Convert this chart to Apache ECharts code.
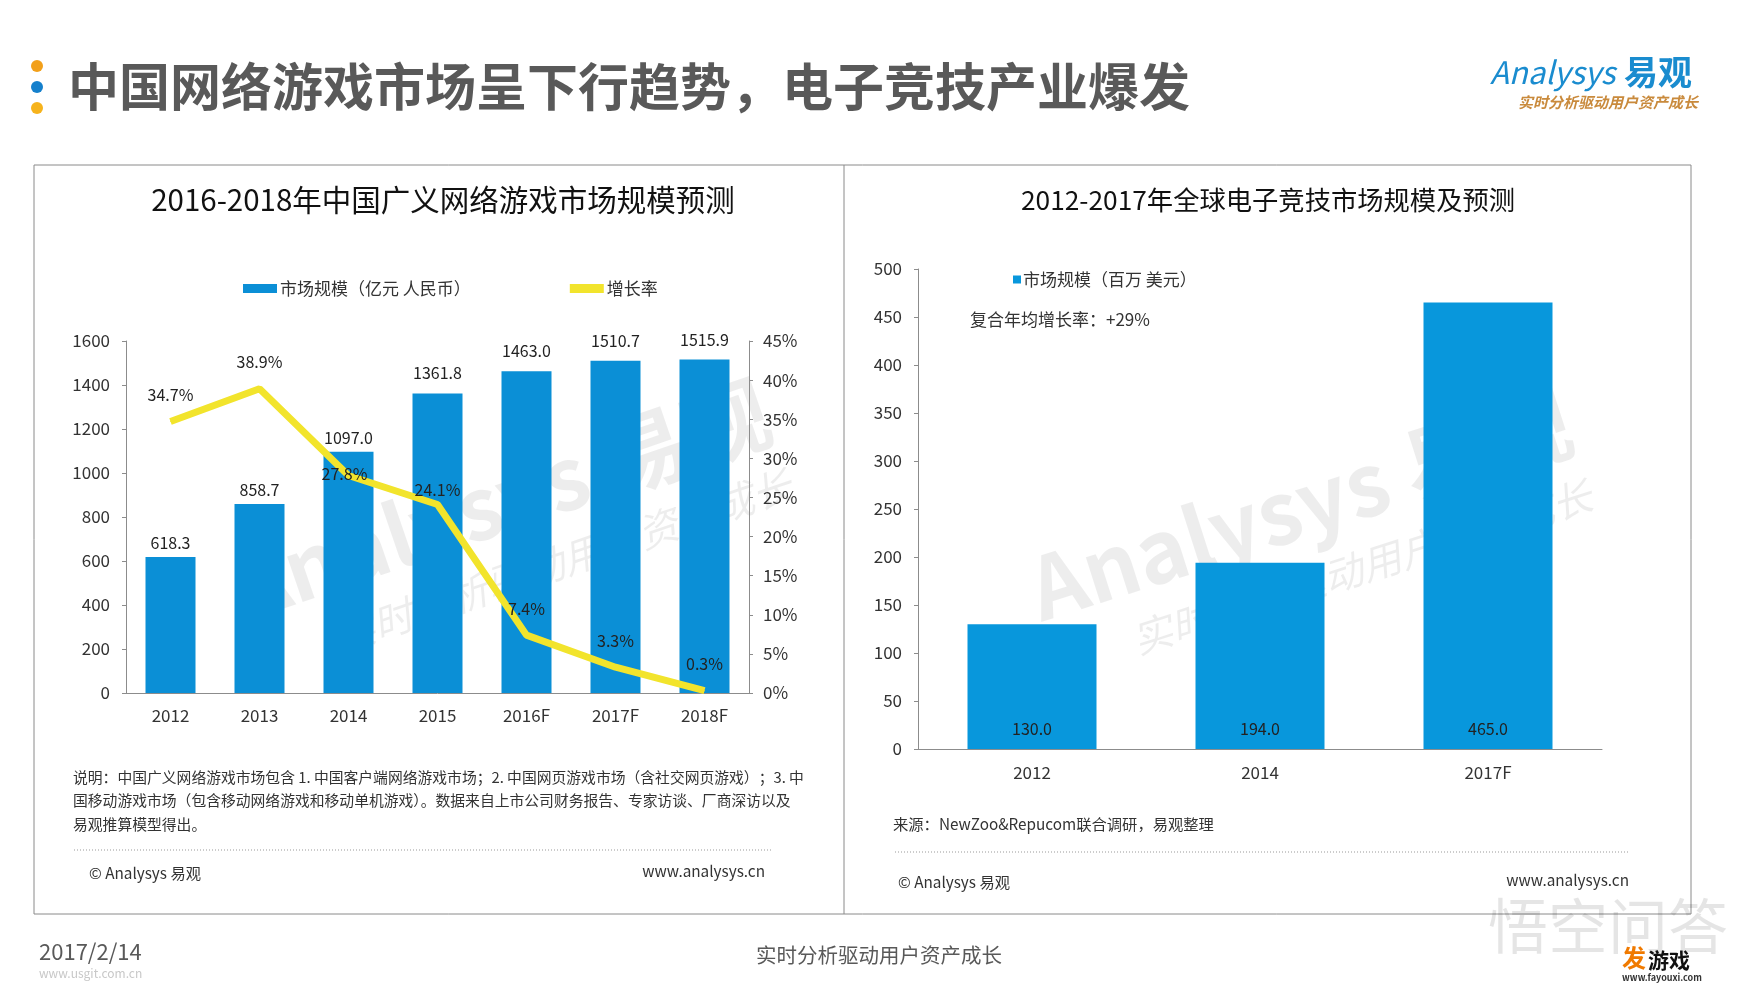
<!DOCTYPE html>
<html>
<head>
<meta charset="utf-8">
<script src="https://cdn.jsdelivr.net/npm/echarts@6/dist/echarts.min.js"></script>
<style>
html,body{margin:0;padding:0;background:#fff;}
#main{width:1760px;height:990px;}
</style>
</head>
<body>
<div id="main"></div>
<script>
// ---- data ----
const categories = ['2012', '2013', '2014', '2015', '2016F', '2017F', '2018F'];
const marketSize = [618.3, 858.7, 1097.0, 1361.8, 1463.0, 1510.7, 1515.9];
const growthRate = [34.7, 38.9, 27.8, 24.1, 7.4, 3.3, 0.3];
const esportsYears = ['2012', '2014', '2017F'];
const esportsSize = [130.0, 194.0, 465.0];

const pageTitle = '中国网络游戏市场呈下行趋势，电子竞技产业爆发';
const leftTitle = '2016-2018年中国广义网络游戏市场规模预测';
const rightTitle = '2012-2017年全球电子竞技市场规模及预测';
const leftBarName = '市场规模（亿元 人民币）';
const leftLineName = '增长率';
const rightBarName = '市场规模（百万 美元）';
const cagrText = '复合年均增长率：+29%';
const noteLines = [
  '说明：中国广义网络游戏市场包含 1. 中国客户端网络游戏市场；2. 中国网页游戏市场（含社交网页游戏）；3. 中',
  '国移动游戏市场（包含移动网络游戏和移动单机游戏）。数据来自上市公司财务报告、专家访谈、厂商深访以及',
  '易观推算模型得出。'
];
const sourceText = '来源：NewZoo&Repucom联合调研，易观整理';

const FONT = '"Noto Sans CJK SC", "Noto Sans", sans-serif';
const BLUE = '#0b8fd6';
const YELLOW = '#f2e42c';
const TXT = '#333333';

const chart = echarts.init(document.getElementById('main'), null, {renderer: 'canvas'});

function t(x, y, text, size, color, align, weight, z) {
  return {
    type: 'text', x: x, y: y, silent: true, z: z || 10,
    style: {text: text, font: (weight || 'normal') + ' ' + size + 'px ' + FONT, fill: color,
      align: align || 'left', verticalAlign: 'middle'}
  };
}

const graphics = [
  // panel frame and divider
  {type: 'rect', shape: {x: 34, y: 165, width: 1657, height: 749}, style: {fill: 'none', stroke: '#8a8a8a', lineWidth: 1}, silent: true, z: 1},
  {type: 'line', shape: {x1: 844, y1: 165, x2: 844, y2: 914}, style: {stroke: '#8a8a8a', lineWidth: 1}, silent: true, z: 1},
  // left dots
  {type: 'circle', shape: {cx: 37, cy: 66, r: 6}, style: {fill: '#f2a01a'}, silent: true},
  {type: 'circle', shape: {cx: 37, cy: 87, r: 6}, style: {fill: '#1580cc'}, silent: true},
  {type: 'circle', shape: {cx: 37, cy: 108, r: 6}, style: {fill: '#f6b31c'}, silent: true},
  // page title
  t(68, 87, pageTitle, 51, '#595959', 'left', 'bold'),
  // logo
  {type: 'text', x: 1490, y: 72, silent: true, style: {text: 'Analysys', font: 'italic 31px ' + FONT, fill: '#1a8ccf', align: 'left', verticalAlign: 'middle'}},
  t(1624, 72, '易观', 34, '#1a8ccf', 'left', 'bold'),
  {type: 'text', x: 1698, y: 102, silent: true, style: {text: '实时分析驱动用户资产成长', font: 'italic bold 15px ' + FONT, fill: '#c98a3c', align: 'right', verticalAlign: 'middle'}},
  // watermarks
  {type: 'group', x: 500, y: 500, rotation: 0.33, silent: true, z: 0, children: [
    {type: 'text', x: 0, y: 0, style: {text: 'Analysys 易观', font: 'bold 86px ' + FONT, fill: 'rgba(0,0,0,0.07)', align: 'center', verticalAlign: 'middle'}},
    {type: 'text', x: 40, y: 78, style: {text: '实时分析驱动用户资产成长', font: 'italic 40px ' + FONT, fill: 'rgba(0,0,0,0.07)', align: 'center', verticalAlign: 'middle'}}
  ]},
  {type: 'group', x: 1300, y: 505, rotation: 0.31, silent: true, z: 0, children: [
    {type: 'text', x: 0, y: 0, style: {text: 'Analysys 易观', font: 'bold 86px ' + FONT, fill: 'rgba(0,0,0,0.07)', align: 'center', verticalAlign: 'middle'}},
    {type: 'text', x: 40, y: 78, style: {text: '实时分析驱动用户资产成长', font: 'italic 40px ' + FONT, fill: 'rgba(0,0,0,0.07)', align: 'center', verticalAlign: 'middle'}}
  ]},
  // left notes
  t(73, 777, noteLines[0], 14.8, TXT),
  t(73, 800, noteLines[1], 14.8, TXT),
  t(73, 824, noteLines[2], 14.8, TXT),
  {type: 'line', shape: {x1: 74, y1: 850, x2: 772, y2: 850}, style: {stroke: '#999', lineWidth: 1, lineDash: [1, 2]}, silent: true},
  t(89, 873, '© Analysys 易观', 15.3, TXT),
  t(765, 871, 'www.analysys.cn', 15.3, TXT, 'right'),
  // right notes
  t(893, 824, sourceText, 15.3, TXT),
  {type: 'line', shape: {x1: 895, y1: 852, x2: 1628, y2: 852}, style: {stroke: '#999', lineWidth: 1, lineDash: [1, 2]}, silent: true},
  t(898, 882, '© Analysys 易观', 15.3, TXT),
  t(1629, 880, 'www.analysys.cn', 15.3, TXT, 'right'),
  // cagr
  t(970, 320, cagrText, 17, TXT),
  // bottom
  t(39, 952, '2017/2/14', 22, '#595959'),
  t(39, 973, 'www.usgit.com.cn', 12, '#c8c8c8'),
  t(879, 955, '实时分析驱动用户资产成长', 20.5, '#595959', 'center'),
  t(1608, 926, '悟空问答', 60, 'rgba(0,0,0,0.10)', 'center', 'normal', 0),
  {type: 'text', x: 1622, y: 958, silent: true, style: {text: '发', font: 'bold 24px ' + FONT, fill: '#f07a00', align: 'left', verticalAlign: 'middle'}},
  t(1648, 960, '游戏', 21, '#111', 'left', 'bold'),
  t(1662, 978, 'www.fayouxi.com', 9, '#333', 'center', 'bold')
];

const barLabelDistance = [6, 6, 6, 12, 12, 12, 12];
const lineLabelOverride = {2: {position: 'inside', offset: [-4, -2]}, 3: {offset: [0, 12]}};

const option = {
  backgroundColor: '#ffffff',
  textStyle: {fontFamily: FONT},
  title: [
    {text: leftTitle, left: 443, top: 183, textAlign: 'center', padding: 0,
      textStyle: {fontSize: 29.5, fontWeight: 'normal', color: '#111', fontFamily: FONT, lineHeight: 34}},
    {text: rightTitle, left: 1268, top: 184, textAlign: 'center', padding: 0,
      textStyle: {fontSize: 26.3, fontWeight: 'normal', color: '#111', fontFamily: FONT, lineHeight: 32}}
  ],
  legend: [
    {left: 243, top: 280, padding: 0, itemGap: 99, itemWidth: 34, itemHeight: 9,
      textStyle: {fontSize: 17, color: TXT, fontFamily: FONT, padding: [0, 0, 0, -2]},
      data: [{name: leftBarName, icon: 'rect'}, {name: leftLineName, icon: 'rect', itemStyle: {color: YELLOW}}]},
    {left: 1013, top: 271, padding: 0, itemWidth: 8, itemHeight: 8,
      textStyle: {fontSize: 17, color: TXT, fontFamily: FONT, padding: [0, 0, 0, -3]},
      data: [{name: rightBarName, icon: 'rect'}]}
  ],
  grid: [
    {left: 126, right: 1011, top: 341, bottom: 297},
    {left: 918, right: 158, top: 269, bottom: 241}
  ],
  xAxis: [
    {type: 'category', gridIndex: 0, data: categories,
      axisLine: {lineStyle: {color: '#8c8c8c'}}, axisTick: {show: false},
      axisLabel: {fontSize: 17, color: TXT, margin: 14}},
    {type: 'category', gridIndex: 1, data: esportsYears,
      axisLine: {lineStyle: {color: '#8c8c8c'}}, axisTick: {show: false},
      axisLabel: {fontSize: 17, color: TXT, margin: 15}}
  ],
  yAxis: [
    {type: 'value', gridIndex: 0, min: 0, max: 1600, interval: 200,
      axisLine: {show: true, lineStyle: {color: '#8c8c8c'}},
      axisTick: {show: true, length: 4, lineStyle: {color: '#8c8c8c'}},
      splitLine: {show: false},
      axisLabel: {fontSize: 17, color: TXT, margin: 16, formatter: v => String(v)}},
    {type: 'value', gridIndex: 0, position: 'right', min: 0, max: 45, interval: 5,
      axisLine: {show: true, lineStyle: {color: '#8c8c8c'}},
      axisTick: {show: true, length: 4, lineStyle: {color: '#8c8c8c'}},
      splitLine: {show: false},
      axisLabel: {fontSize: 17, color: TXT, margin: 14, formatter: '{value}%'}},
    {type: 'value', gridIndex: 1, min: 0, max: 500, interval: 50,
      axisLine: {show: true, lineStyle: {color: '#8c8c8c'}},
      axisTick: {show: true, length: 4, lineStyle: {color: '#8c8c8c'}},
      splitLine: {show: false},
      axisLabel: {fontSize: 17, color: TXT, margin: 16, formatter: v => String(v)}}
  ],
  series: [
    {name: leftBarName, type: 'bar', xAxisIndex: 0, yAxisIndex: 0,
      data: marketSize.map((v, i) => ({value: v, label: {distance: barLabelDistance[i]}})),
      barWidth: 50, itemStyle: {color: BLUE}, z: 2,
      label: {show: true, position: 'top', distance: 6, fontSize: 16, color: '#222',
        formatter: p => p.value.toFixed(1)}},
    {name: leftLineName, type: 'line', xAxisIndex: 0, yAxisIndex: 1,
      data: growthRate.map((v, i) => lineLabelOverride[i] ? {value: v, label: lineLabelOverride[i]} : v),
      showSymbol: true, symbol: 'circle', symbolSize: 1, itemStyle: {color: YELLOW},
      lineStyle: {color: YELLOW, width: 7}, z: 3,
      label: {show: true, position: 'top', distance: 18, fontSize: 16, color: '#222',
        formatter: p => p.value.toFixed(1) + '%'}},
    {name: rightBarName, type: 'bar', xAxisIndex: 1, yAxisIndex: 2, data: esportsSize,
      barWidth: 129, itemStyle: {color: '#0897dc'}, z: 2,
      label: {show: true, position: 'insideBottom', distance: 12, fontSize: 16, color: '#222',
        formatter: p => p.value.toFixed(1)}}
  ],
  graphic: graphics
};
chart.setOption(option);
</script>
</body>
</html>
